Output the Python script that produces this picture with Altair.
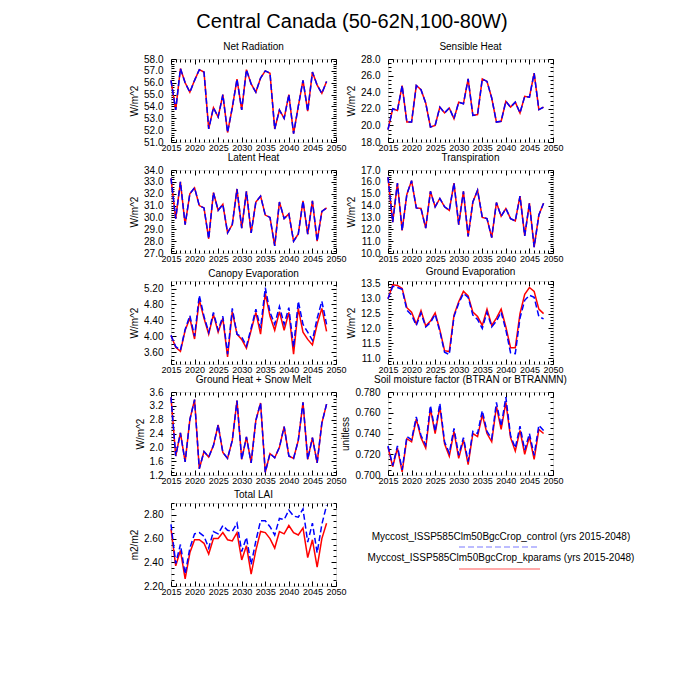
import altair as alt
import pandas as pd

FONT = "Liberation Sans"
years = list(range(2015, 2049))

# ---- series values ----
netrad_ctl = [56.2, 53.7, 57.2, 56.0, 55.2, 56.2, 57.1, 56.9, 52.1, 53.9, 53.1, 55.0, 51.8, 53.9, 56.3, 53.7, 57.1,
              55.9, 55.2, 56.4, 57.0, 56.8, 52.1, 53.7, 53.0, 55.0, 51.7, 54.0, 56.2, 53.6, 56.9, 55.8, 55.1, 56.1]
netrad_kp = [56.2, 53.7, 57.2, 56.0, 55.2, 56.2, 57.1, 56.9, 52.1, 53.9, 53.1, 55.0, 51.8, 53.9, 56.3, 53.7, 57.1,
             55.9, 55.2, 56.4, 57.0, 56.8, 52.1, 53.7, 53.0, 55.0, 51.7, 54.0, 56.2, 53.6, 56.9, 55.8, 55.1, 56.1]

sens_ctl = [19.5, 22.0, 21.8, 24.8, 20.4, 20.4, 24.8, 24.3, 22.7, 19.8, 20.0, 22.2, 21.5, 22.1, 20.8, 22.8, 22.6,
            25.6, 21.2, 21.3, 25.6, 25.3, 23.3, 20.4, 20.5, 22.9, 22.2, 22.8, 21.5, 23.5, 23.4, 26.3, 21.9, 22.2]
sens_kp = [19.5, 22.0, 21.8, 24.8, 20.4, 20.4, 24.8, 24.3, 22.7, 19.8, 20.0, 22.2, 21.5, 22.1, 20.8, 22.8, 22.6,
           25.6, 21.2, 21.3, 25.6, 25.3, 23.3, 20.4, 20.5, 22.9, 22.2, 22.8, 21.5, 23.5, 23.4, 26.3, 21.9, 22.2]

lat_ctl = [33.3, 29.9, 33.0, 29.4, 32.0, 32.5, 31.0, 30.8, 28.2, 32.1, 30.6, 31.1, 28.7, 29.4, 32.4, 29.1, 32.2,
           28.7, 31.3, 31.8, 30.2, 30.0, 27.6, 31.3, 29.9, 30.3, 28.0, 28.6, 31.4, 28.6, 31.4, 28.0, 30.5, 30.8]
lat_kp = [33.3, 29.9, 33.0, 29.4, 32.0, 32.5, 31.0, 30.8, 28.2, 32.1, 30.6, 31.1, 28.7, 29.4, 32.4, 29.1, 32.2,
          28.7, 31.3, 31.8, 30.2, 30.0, 27.6, 31.3, 29.9, 30.3, 28.0, 28.6, 31.4, 28.6, 31.4, 28.0, 30.5, 30.8]

tr_ctl = [16.4, 12.6, 15.9, 11.9, 14.95, 16.1, 13.8, 13.75, 12.1, 15.2, 13.9, 14.6, 13.9, 13.6, 15.9, 12.4, 15.2,
          11.4, 14.3, 15.3, 13.0, 12.9, 11.3, 14.25, 13.1, 13.75, 12.9, 12.7, 14.8, 11.45, 14.2, 10.5, 13.2, 14.2]
tr_kp = [16.4, 12.6, 15.9, 11.9, 14.95, 16.1, 13.8, 13.75, 12.1, 15.2, 13.9, 14.6, 13.9, 13.6, 15.9, 12.4, 15.2,
         11.4, 14.3, 15.3, 13.0, 12.9, 11.3, 14.25, 13.1, 13.75, 12.9, 12.7, 14.8, 11.45, 14.2, 10.5, 13.2, 14.2]

can_ctl = [4.02, 3.74, 3.65, 4.17, 4.52, 4.00, 5.03, 4.50, 4.10, 4.60, 4.15, 4.50, 3.55, 4.70, 4.05, 3.98, 3.75,
           4.20, 4.68, 4.20, 5.22, 4.60, 4.30, 4.75, 4.30, 4.72, 3.72, 4.88, 4.30, 4.10, 3.90, 4.45, 4.88, 4.30]
can_kp = [4.02, 3.72, 3.62, 4.15, 4.45, 3.93, 4.92, 4.45, 4.05, 4.55, 4.10, 4.45, 3.48, 4.62, 4.05, 3.92, 3.70,
          4.15, 4.60, 4.05, 5.08, 4.50, 4.15, 4.62, 4.15, 4.60, 3.55, 4.70, 4.10, 3.92, 3.78, 4.30, 4.70, 4.12]

gev_ctl = [13.0, 13.42, 13.38, 13.32, 12.62, 12.45, 12.1, 12.52, 12.05, 12.2, 12.48, 11.9, 11.2, 11.12, 12.4, 12.85,
           13.18, 13.05, 12.45, 12.3, 12.0, 12.55, 12.05, 12.25, 12.55, 11.95, 11.18, 11.15, 12.35, 12.95, 13.12,
           13.05, 12.4, 12.32]
gev_kp = [13.0, 13.47, 13.45, 13.35, 12.7, 12.55, 12.15, 12.6, 12.08, 12.25, 12.52, 11.95, 11.25, 11.22, 12.45, 12.9,
          13.25, 13.1, 12.55, 12.4, 12.1, 12.65, 12.1, 12.35, 12.65, 12.05, 11.35, 11.35, 12.5, 13.15, 13.38,
          13.25, 12.65, 12.5]

gh_ctl = [3.45, 1.75, 2.42, 1.58, 2.8, 3.38, 1.38, 1.88, 1.72, 2.05, 2.65, 1.85, 1.68, 2.2, 3.35, 1.65, 2.3,
          1.55, 2.78, 3.28, 1.28, 1.82, 1.7, 2.0, 2.6, 1.75, 1.68, 2.2, 3.3, 1.65, 2.28, 1.55, 2.7, 3.25]
gh_kp = [3.45, 1.75, 2.42, 1.58, 2.8, 3.38, 1.38, 1.88, 1.72, 2.05, 2.65, 1.85, 1.68, 2.2, 3.35, 1.65, 2.3,
         1.55, 2.78, 3.28, 1.28, 1.82, 1.7, 2.0, 2.6, 1.75, 1.68, 2.2, 3.3, 1.65, 2.28, 1.55, 2.7, 3.25]

soil_ctl = [0.728, 0.709, 0.728, 0.705, 0.737, 0.734, 0.756, 0.738, 0.729, 0.767, 0.742, 0.769, 0.732, 0.721, 0.745,
            0.719, 0.736, 0.713, 0.742, 0.740, 0.762, 0.742, 0.735, 0.770, 0.747, 0.775, 0.738, 0.726, 0.747, 0.724,
            0.740, 0.719, 0.748, 0.743]
soil_kp = [0.727, 0.708, 0.726, 0.703, 0.735, 0.732, 0.754, 0.736, 0.726, 0.764, 0.740, 0.766, 0.730, 0.718, 0.742,
           0.716, 0.734, 0.710, 0.740, 0.737, 0.758, 0.740, 0.732, 0.766, 0.744, 0.770, 0.736, 0.723, 0.743, 0.720,
           0.737, 0.715, 0.744, 0.740]

lai_ctl = [2.72, 2.39, 2.55, 2.30, 2.52, 2.64, 2.65, 2.62, 2.52, 2.66, 2.64, 2.71, 2.67, 2.66, 2.73, 2.49, 2.61,
           2.38, 2.58, 2.75, 2.75, 2.70, 2.63, 2.77, 2.76, 2.84, 2.79, 2.78, 2.85, 2.57, 2.73, 2.48, 2.72, 2.88]
lai_kp = [2.68, 2.37, 2.50, 2.26, 2.48, 2.59, 2.59, 2.56, 2.47, 2.60, 2.60, 2.65, 2.59, 2.58, 2.65, 2.42, 2.54,
          2.30, 2.50, 2.66, 2.65, 2.60, 2.52, 2.66, 2.64, 2.71, 2.65, 2.63, 2.69, 2.44, 2.59, 2.36, 2.60, 2.73]

legend_labels = ["Myccost_ISSP585Clm50BgcCrop_control (yrs 2015-2048)",
                 "Myccost_ISSP585Clm50BgcCrop_kparams (yrs 2015-2048)"]

X_MAJOR = [2015, 2020, 2025, 2030, 2035, 2040, 2045, 2050]
X_MINOR = [y for y in range(2015, 2051) if y not in X_MAJOR]


def frange(a, b, s):
    n = int(round((b - a) / s))
    return [round(a + i * s, 6) for i in range(n + 1)]


W, H = 165, 83


def axis(orient, values, major, labels=False, fmt=None, title=None, pad=8, size_font=10):
    size = 5 if major else 3
    kw = dict(orient=orient, values=values, domain=False, grid=False, ticks=True,
              tickColor="black", tickWidth=1, tickSize=size, offset=-size,
              labels=labels, title=title)
    if labels:
        kw.update(labelFont=FONT, labelFontSize=size_font, labelColor="black", labelPadding=pad,
                  labelOverlap=False, labelFlush=False)
        if fmt:
            kw["format"] = fmt
    if title:
        kw.update(titleFont=FONT, titleFontSize=10, titleFontWeight="normal",
                  titleColor="black", titlePadding=4)
    return alt.Axis(**kw)


def panel(title, ytitle, ctl, kp, domain, ystep, yfmt, minor_div):
    n = len(years)
    df = pd.DataFrame({"year": years + years, "value": ctl + kp,
                       "run": ["control"] * n + ["kparams"] * n})
    ymajor = frange(ystep[0], ystep[1], ystep[2])
    yminor = [v for v in frange(domain[0] - (domain[0] % (ystep[2] / minor_div)), domain[1], ystep[2] / minor_div)
              if domain[0] <= v <= domain[1] and all(abs(v - m) > 1e-6 for m in ymajor)]
    xs = alt.Scale(domain=[2015, 2050], nice=False, zero=False)
    ys = alt.Scale(domain=domain, nice=False, zero=False)
    base = alt.Chart(df)
    red = base.transform_filter(alt.datum.run == "kparams").mark_line(
        color="#ff0000", strokeWidth=1.5).encode(
        x=alt.X("year:Q", scale=xs, axis=axis("bottom", X_MAJOR, True, labels=True, fmt="d", pad=1,
                                               size_font=9)),
        y=alt.Y("value:Q", scale=ys, axis=axis("left", ymajor, True, labels=True, fmt=yfmt, title=ytitle, pad=8)))
    blue = base.transform_filter(alt.datum.run == "control").mark_line(
        color="#0000ff", strokeWidth=1.5, strokeDash=[6, 3]).encode(
        x=alt.X("year:Q", scale=xs, axis=axis("top", X_MAJOR, True)),
        y=alt.Y("value:Q", scale=ys, axis=axis("right", ymajor, True)))
    ghost1 = base.mark_line(opacity=0).encode(
        x=alt.X("year:Q", scale=xs, axis=axis("bottom", X_MINOR, False)),
        y=alt.Y("value:Q", scale=ys, axis=axis("left", yminor, False)))
    ghost2 = base.mark_line(opacity=0).encode(
        x=alt.X("year:Q", scale=xs, axis=axis("top", X_MINOR, False)),
        y=alt.Y("value:Q", scale=ys, axis=axis("right", yminor, False)))
    return alt.layer(red, blue, ghost1, ghost2,
                     title=alt.Title(title, font=FONT, fontSize=10, fontWeight="normal",
                                     color="black", offset=2)).resolve_axis(
        x="independent", y="independent").properties(width=W, height=H)


cells = [
    panel("Net Radiation", "W/m^2", netrad_ctl, netrad_kp, [51, 58], (51, 58, 1), ".1f", 5),
    panel("Sensible Heat", "W/m^2", sens_ctl, sens_kp, [18, 28], (18, 28, 2), ".1f", 4),
    panel("Latent Heat", "W/m^2", lat_ctl, lat_kp, [27, 34], (27, 34, 1), ".1f", 5),
    panel("Transpiration", "W/m^2", tr_ctl, tr_kp, [10, 17], (10, 17, 1), ".1f", 5),
    panel("Canopy Evaporation", "W/m^2", can_ctl, can_kp, [3.30, 5.39], (3.6, 5.2, 0.4), ".2f", 4),
    panel("Ground Evaporation", "W/m^2", gev_ctl, gev_kp, [10.8, 13.6], (11.0, 13.5, 0.5), ".1f", 5),
    panel("Ground Heat + Snow Melt", "W/m^2", gh_ctl, gh_kp, [1.2, 3.6], (1.2, 3.6, 0.4), ".1f", 4),
    panel("Soil moisture factor (BTRAN or BTRANMN)", "unitless", soil_ctl, soil_kp, [0.700, 0.780],
          (0.700, 0.780, 0.020), ".3f", 4),
    panel("Total LAI", "m2/m2", lai_ctl, lai_kp, [2.2, 2.9], (2.2, 2.8, 0.2), ".2f", 4),
]

# legend cell
t1 = alt.Chart(pd.DataFrame({"label": [legend_labels[0]]})).mark_text(
    font=FONT, fontSize=10, color="black", align="center", baseline="middle").encode(
    text="label:N", x=alt.value(113), y=alt.value(34))
r1 = alt.Chart(pd.DataFrame({"label": [legend_labels[0]]})).mark_rule(
    color="#0000ff", strokeWidth=1.5, strokeDash=[6, 3], opacity=0.35).encode(
    x=alt.value(71), x2=alt.value(152), y=alt.value(44))
t2 = alt.Chart(pd.DataFrame({"label": [legend_labels[1]]})).mark_text(
    font=FONT, fontSize=10, color="black", align="center", baseline="middle").encode(
    text="label:N", x=alt.value(113), y=alt.value(55))
r2 = alt.Chart(pd.DataFrame({"label": [legend_labels[1]]})).mark_rule(
    color="#ff0000", strokeWidth=1.5, opacity=0.45).encode(
    x=alt.value(71), x2=alt.value(152), y=alt.value(66))
legend = alt.layer(t1, r1, t2, r2).properties(
    width=W, height=H, view=alt.ViewBackground(stroke="transparent"))
cells.append(legend)

chart = alt.concat(
    *cells, columns=2, spacing={"row": 28, "column": 52}, bounds="flush",
    title=alt.Title("Central Canada (50-62N,100-80W)", font=FONT, fontSize=20, fontWeight="normal",
                    color="black", anchor="middle", offset=10, dx=-30),
    padding={"left": 121, "top": 3, "right": 5, "bottom": 5},
).configure_view(stroke="black", strokeWidth=1).configure(font=FONT, background="white")

chart.save("out.html", embed_options={"renderer": "svg", "actions": False})
